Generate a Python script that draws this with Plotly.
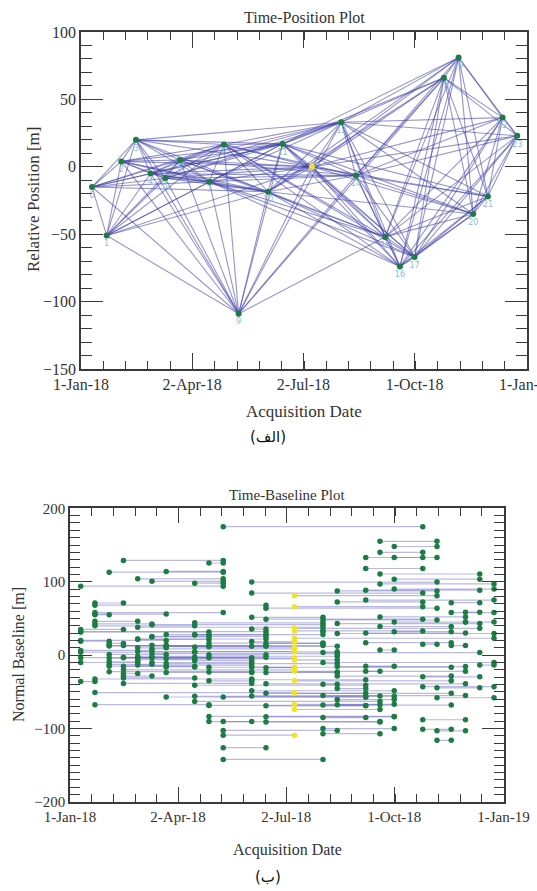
import plotly.graph_objects as go

# Acquisition dates (12-day repeat) and relative positions of each acquisition [m]
acq_dates = ["2018-01-10", "2018-01-22", "2018-02-03", "2018-02-15", "2018-02-27", "2018-03-11",
             "2018-03-23", "2018-04-16", "2018-04-28", "2018-05-10", "2018-06-03", "2018-06-15",
             "2018-07-09", "2018-08-02", "2018-08-14", "2018-09-07", "2018-09-19", "2018-10-01",
             "2018-10-25", "2018-11-06", "2018-11-18", "2018-11-30", "2018-12-12", "2018-12-24"]
rel_position = [-15, -51, 4, 20, -5, -8.5, 5, -11, 16.5, -109, -18.5, 17,
                0, 33, -6.5, -52, -74, -67, 66, 81, -35, -22, 36.5, 23]
super_master = 12

# Interferometric pairs: master index -> list of slave indices
connections = {
    0: [1, 2, 3, 5, 6, 7, 8, 10, 11],
    1: [2, 3, 4, 5, 6, 7, 11],
    2: [3, 4, 5, 6, 7, 8, 10, 11, 12],
    3: [4, 5, 6, 7, 8, 10, 11, 12, 13],
    4: [0, 5, 6, 7, 8, 10, 11, 12, 13, 14],
    5: [6, 7, 8, 10, 11, 12, 13, 14],
    6: [7, 8, 10, 11, 12, 13, 14, 15],
    7: [8, 10, 11, 12, 13, 14, 15, 16, 17],
    8: [1, 10, 11, 12, 13, 14, 15, 16, 17],
    9: [0, 1, 2, 3, 4, 5, 6, 7, 8, 18],
    10: [1, 9, 11, 12, 13, 14, 15, 16, 17, 18, 19, 20],
    11: [9, 12, 13, 14, 15, 16, 17, 18, 19, 20, 21],
    12: [1, 9, 13, 14, 15, 16, 17, 18, 19, 20, 21, 22, 23],
    13: [9, 14, 15, 16, 17, 18, 19, 20, 21, 22, 23],
    14: [9, 15, 16, 17, 18, 19, 20, 21, 22, 23],
    15: [9, 16, 17, 18, 19, 20, 21, 22, 23],
    16: [17, 18, 19, 20, 21, 22, 23],
    17: [18, 19, 20, 21, 22, 23],
    18: [19, 20, 21, 22, 23],
    19: [20, 21, 22, 23],
    20: [21, 22, 23],
    21: [22, 23],
    22: [23],
}

x_tick_vals = ["2018-01-01", "2018-04-02", "2018-07-02", "2018-10-01", "2019-01-01"]
x_tick_text = ["1-Jan-18", "2-Apr-18", "2-Jul-18", "1-Oct-18", "1-Jan-19"]

SERIF = "Liberation Serif, Times New Roman, serif"
AXIS_COL = "#3a3a3a"
GREEN = "#1b7d42"
YELLOW = "#f2e22c"

fig = go.Figure()

# ---- Time-Position network ----
ex, ey = [], []
for m, slaves in connections.items():
    for s in slaves:
        ex += [acq_dates[m], acq_dates[s], None]
        ey += [rel_position[m], rel_position[s], None]
fig.add_trace(go.Scatter(x=ex, y=ey, mode="lines", xaxis="x", yaxis="y",
                         line=dict(color="rgba(62,62,165,0.55)", width=1.1),
                         hoverinfo="skip", showlegend=False))
node_cols = [YELLOW if i == super_master else GREEN for i in range(len(acq_dates))]
fig.add_trace(go.Scatter(x=acq_dates, y=rel_position, mode="markers+text", xaxis="x", yaxis="y",
                         text=[str(i) for i in range(len(acq_dates))],
                         textposition="bottom center",
                         textfont=dict(size=8, color="#8cb8dc", family="DejaVu Sans"),
                         marker=dict(size=6, color=node_cols),
                         showlegend=False))

# ---- Time-Baseline plot: each pair drawn at its normal baseline ----
bx, by = [], []
dx, dy, dc = [], [], []
for m, slaves in connections.items():
    for s in slaves:
        b = rel_position[s] - rel_position[m]
        bx += [acq_dates[m], acq_dates[s], None]
        by += [b, b, None]
        for k in (m, s):
            dx.append(acq_dates[k])
            dy.append(b)
            dc.append(YELLOW if k == super_master else GREEN)
fig.add_trace(go.Scatter(x=bx, y=by, mode="lines", xaxis="x2", yaxis="y2",
                         line=dict(color="rgba(100,100,195,0.45)", width=1.2),
                         hoverinfo="skip", showlegend=False))
fig.add_trace(go.Scatter(x=dx, y=dy, mode="markers", xaxis="x2", yaxis="y2",
                         marker=dict(size=5.5, color=dc), showlegend=False))

day_ms = 86400000
axis_common = dict(showline=True, linecolor=AXIS_COL, linewidth=1.6, mirror="ticks",
                   ticks="inside", tickcolor=AXIS_COL, tickwidth=1.4, showgrid=False,
                   zeroline=False, automargin=False,
                   tickfont=dict(family=SERIF, size=16, color="#333"))

xaxis_common = dict(axis_common, type="date", range=["2018-01-01", "2019-01-01"],
                    tickmode="array", tickvals=x_tick_vals, ticktext=x_tick_text, ticklen=16,
                    ticklabeloverflow="allow",
                    minor=dict(ticks="inside", ticklen=8, tickcolor=AXIS_COL, tickwidth=1.3,
                               dtick=18.25 * day_ms, tick0="2018-01-01", showgrid=False))

fig.update_layout(
    width=537, height=891, margin=dict(l=0, r=0, t=0, b=0, autoexpand=False),
    paper_bgcolor="white", plot_bgcolor="white",
    xaxis=dict(xaxis_common, domain=[81 / 537, 527 / 537], anchor="y"),
    yaxis=dict(axis_common, domain=[(891 - 369) / 891, (891 - 32) / 891], anchor="x",
               range=[-150, 100], dtick=50, tick0=0, ticklen=22,
               minor=dict(ticks="inside", ticklen=11, dtick=10, tickcolor=AXIS_COL,
                          tickwidth=1.3, showgrid=False)),
    xaxis2=dict(xaxis_common, domain=[70 / 537, 503.5 / 537], anchor="y2",
                ticklen=15, tickfont=dict(family=SERIF, size=15, color="#333")),
    yaxis2=dict(axis_common, domain=[(891 - 802) / 891, (891 - 508.3) / 891], anchor="x2",
                range=[-200, 200], dtick=100, tick0=0, ticklen=22,
                tickfont=dict(family=SERIF, size=15, color="#333"),
                minor=dict(ticks="inside", ticklen=10, dtick=10, tickcolor=AXIS_COL,
                           tickwidth=1.3, showgrid=False)),
)

def label(text, x, y, size, angle=0, family=SERIF, color="#333"):
    fig.add_annotation(text=text, x=x / 537, y=1 - y / 891, xref="paper", yref="paper",
                       showarrow=False, textangle=angle, xanchor="center", yanchor="middle",
                       font=dict(family=family, size=size, color=color))

label("Time-Position Plot", 304, 17, 16)
label("Relative Position [m]", 34, 200, 17, angle=-90)
label("Acquisition Date", 304, 411, 17)
label("(الف)", 268, 437, 15, family="DejaVu Sans", color="#111")
label("Time-Baseline Plot", 287, 495, 15)
label("Normal Baseline [m]", 18, 655, 16, angle=-90)
label("Acquisition Date", 287, 850, 16)
label("(ب)", 268, 877, 15, family="DejaVu Sans", color="#111")

fig.write_html("out.html")
